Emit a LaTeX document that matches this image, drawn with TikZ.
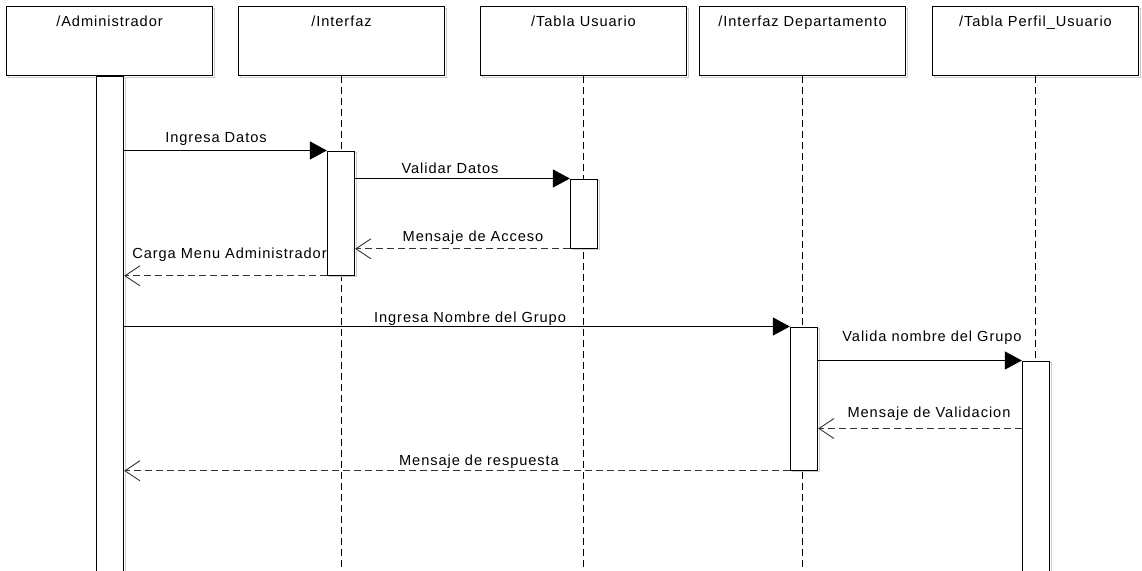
\documentclass[tikz,border=0pt]{standalone}
\usepackage{fontspec}
\setmainfont{Liberation Sans}[LetterSpace=6.5]
\usetikzlibrary{arrows.meta}
\begin{document}
\begin{tikzpicture}[x=1pt,y=-1pt,
  lbl/.style={font=\fontsize{14.6}{16}\selectfont, text=black, inner sep=0pt, anchor=base},
  shade/.style={preaction={draw=black!20, line width=1pt, transform canvas={shift={(1.5pt,-1.5pt)}}}},
  head/.style={shade, draw=black, line width=1.3pt, fill=white, minimum width=206pt, minimum height=69pt, inner sep=0pt},
  act/.style={shade, draw=black, line width=1.3pt, fill=white, minimum width=27pt, inner sep=0pt, anchor=north},
  life/.style={draw=black, line width=1.3pt, dash pattern=on 7pt off 4pt},
  sync/.style={draw=black, line width=1.3pt, -{Triangle[length=17pt,width=18pt]}},
  ret/.style={draw=black!80, line width=1.3pt, dash pattern=on 7pt off 4pt, -{Straight Barb[length=15pt,width=20pt,line width=0.9pt]}}
]
\useasboundingbox (0,0) rectangle (1142,570);
% header boxes
\node[head] (hA) at (109.5,41) {};
\node[head] (hB) at (341.5,41) {};
\node[head] (hC) at (583.5,41) {};
\node[head] (hD) at (802.5,41) {};
\node[head] (hE) at (1035.5,41) {};
\node[lbl] (tA) at (109.5,27) {/Administrador};
\node[lbl] (tB) at (341.5,27) {/Interfaz};
\node[lbl] (tC) at (583.5,27) {/Tabla Usuario};
\node[lbl] (tD) at (802.5,27) {/Interfaz Departamento};
\node[lbl] (tE) at (1035.5,27) {/Tabla Perfil\_Usuario};
% lifelines
\draw[life] (hB.south) -- ++(0,500);
\draw[life] (hC.south) -- ++(0,500);
\draw[life] (hD.south) -- ++(0,500);
\draw[life] (hE.south) -- ++(0,500);
% activations
\node[act, minimum height=510pt] (aA) at (110,75.5) {};
\node[act, minimum height=124pt] (aB) at (341,150.5) {};
\node[act, minimum height=69pt] (aC) at (584,178.5) {};
\node[act, minimum height=143pt] (aD) at (804,326.5) {};
\node[act, minimum height=230pt] (aE) at (1036,360.5) {};
\coordinate (yv) at (0,428.5);
% messages
\draw[sync] (aA.east |- aB.north west) -- (aB.north west);
\draw[ret] (aB.south west) -- (aA.east |- aB.south west);
\draw[sync] (aB.east |- aC.north west) -- (aC.north west);
\draw[ret] (aC.south west) -- (aB.east |- aC.south west);
\draw[sync] (aA.east |- aD.north west) -- (aD.north west);
\draw[sync] (aD.east |- aE.north west) -- (aE.north west);
\draw[ret] (aE.west |- yv) -- (aD.east |- yv);
\draw[ret] (aD.south west) -- (aA.east |- aD.south west);
% labels
\node[lbl] (l1) at (216,142) {Ingresa Datos};
\node[lbl] (l2) at (229.5,258) {Carga Menu Administrador};
\node[lbl] (l3) at (450,173) {Validar Datos};
\node[lbl] (l4) at (473,241) {Mensaje de Acceso};
\node[lbl] (l5) at (470,322) {Ingresa Nombre del Grupo};
\node[lbl] (l6) at (932,341) {Valida nombre del Grupo};
\node[lbl] (l7) at (929,417) {Mensaje de Validacion};
\node[lbl] (l8) at (479,465) {Mensaje de respuesta};
\end{tikzpicture}
\end{document}
